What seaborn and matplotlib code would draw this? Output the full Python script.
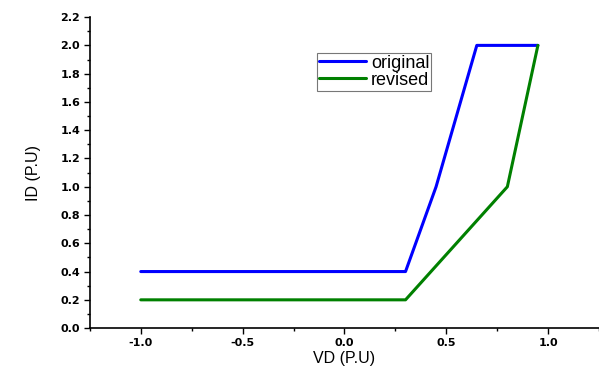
import pandas as pd
import matplotlib.pyplot as plt
import seaborn as sns
from matplotlib.ticker import MultipleLocator

vd_original = [-1.0, 0.3, 0.45, 0.65, 0.95]
id_original = [0.4, 0.4, 1.0, 2.0, 2.0]
vd_revised = [-1.0, 0.3, 0.8, 0.95]
id_revised = [0.2, 0.2, 1.0, 2.0]

data = pd.concat([
    pd.DataFrame({'VD': vd_original, 'ID': id_original, 'curve': 'original'}),
    pd.DataFrame({'VD': vd_revised, 'ID': id_revised, 'curve': 'revised'}),
])

sns.set_style('ticks')
plt.rcParams['font.family'] = ['Liberation Sans', 'DejaVu Sans']
plt.rcParams['text.color'] = 'black'
plt.rcParams['axes.labelcolor'] = 'black'
plt.rcParams['xtick.color'] = 'black'
plt.rcParams['ytick.color'] = 'black'
plt.rcParams['axes.edgecolor'] = 'black'

fig = plt.figure(figsize=(5.99, 3.72), dpi=100)
ax = fig.add_axes([0.150, 0.118, 0.85, 0.836])
sns.lineplot(data=data, x='VD', y='ID', hue='curve', sort=False, estimator=None,
             palette={'original': '#0000ff', 'revised': '#008000'}, linewidth=2.2, ax=ax)

ax.set_xlim(-1.25, 1.25)
ax.set_ylim(0, 2.2)
ax.xaxis.set_major_locator(MultipleLocator(0.5))
ax.xaxis.set_minor_locator(MultipleLocator(0.25))
ax.yaxis.set_major_locator(MultipleLocator(0.2))
ax.yaxis.set_minor_locator(MultipleLocator(0.1))
ax.xaxis.set_major_formatter(plt.FormatStrFormatter('%.1f'))
ax.yaxis.set_major_formatter(plt.FormatStrFormatter('%.1f'))
ax.tick_params(which='major', length=4, width=1, direction='out', pad=3)
ax.tick_params(which='minor', length=2.5, width=1, direction='out')
for lab in ax.get_xticklabels() + ax.get_yticklabels():
    lab.set_family('DejaVu Sans')
    lab.set_fontweight('bold')
    lab.set_fontsize(8)
sns.despine(ax=ax)
ax.spines['left'].set_linewidth(1.2)
ax.spines['bottom'].set_linewidth(1.2)
ax.set_xlabel('VD (P.U)', fontsize=11.5, labelpad=2)
ax.set_ylabel('ID (P.U)', fontsize=11.5, labelpad=14)

leg = ax.legend(loc='upper left', bbox_to_anchor=(317 / 599, 1 - 53 / 372),
                bbox_transform=fig.transFigure, fontsize=13, frameon=True,
                fancybox=False, edgecolor='#555555', handlelength=2.6,
                borderpad=0.1, labelspacing=0.0, handletextpad=0.3,
                borderaxespad=0)
leg.get_frame().set_linewidth(0.8)

fig.savefig('out.png', dpi=100)
